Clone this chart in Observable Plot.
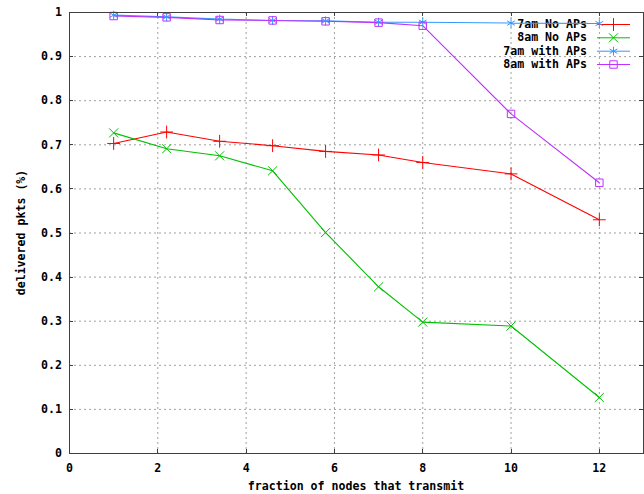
<!DOCTYPE html>
<html>
<head>
<meta charset="utf-8">
<script src="https://cdn.jsdelivr.net/npm/d3@7"></script>
<script src="https://cdn.jsdelivr.net/npm/@observablehq/plot@0.6"></script>
<style>
  html, body { margin: 0; padding: 0; background: #fff; }
  #chart svg { display: block; }
</style>
</head>
<body>
<div id="chart"></div>
<script>
// ---- data ----
const xs = [1, 2.2, 3.4, 4.6, 5.8, 7, 8, 10, 12];
const series = ["7am No APs", "8am No APs", "7am with APs", "8am with APs"];
const am7NoAPs   = [0.703, 0.729, 0.708, 0.698, 0.685, 0.677, 0.660, 0.634, 0.530];
const am8NoAPs   = [0.727, 0.691, 0.675, 0.641, 0.501, 0.378, 0.298, 0.289, 0.127];
const am7WithAPs = [0.994, 0.990, 0.985, 0.982, 0.981, 0.978, 0.978, 0.976, 0.975];
const am8WithAPs = [0.992, 0.989, 0.983, 0.982, 0.980, 0.977, 0.970, 0.770, 0.614];
const xTicks = [0, 2, 4, 6, 8, 10, 12];
const yTicks = [0, 0.1, 0.2, 0.3, 0.4, 0.5, 0.6, 0.7, 0.8, 0.9, 1];
const xLabel = "fraction of nodes that transmit";
const yLabel = "delivered pkts (%)";

const colors = ["#ff0000", "#00c000", "#3399ff", "#c030ff"];
const symbols = ["plus", "times", "asterisk", "square"];

const valuesBySeries = [am7NoAPs, am8NoAPs, am7WithAPs, am8WithAPs];
const rows = [];
series.forEach((s, i) => valuesBySeries[i].forEach((v, j) => rows.push({series: s, x: xs[j], y: v})));

const FONT = "'DejaVu Sans Mono', 'Liberation Mono', monospace";
const FS = 11.6;

const W = 644, H = 494;
const plot = Plot.plot({
  width: W,
  height: H,
  marginLeft: 69,
  marginRight: 1,
  marginTop: 12,
  marginBottom: 41,
  style: {fontFamily: FONT, fontSize: FS + "px", fontWeight: "bold", background: "#fff", color: "#000"},
  x: {domain: [0, 13]},
  y: {domain: [0, 1]},
  color: {domain: series, range: colors},
  symbol: {domain: series, range: symbols},
  marks: [
    Plot.gridX(xTicks.filter(d => d > 0), {stroke: "#a0a0a0", strokeOpacity: 1, strokeDasharray: "2,3"}),
    Plot.gridY(yTicks.filter(d => d > 0 && d < 1), {stroke: "#a0a0a0", strokeOpacity: 1, strokeDasharray: "2,3"}),
    Plot.axisX({ticks: xTicks, tickSize: 0, tickPadding: 10, label: null, tickFormat: d => String(d), fill: "#000"}),
    Plot.axisY({ticks: yTicks, tickSize: 0, tickPadding: 7.5, label: null, tickFormat: d3.format("~g"), fill: "#000"}),
    Plot.line(rows, {x: "x", y: "y", z: "series", stroke: "series", strokeWidth: 1.1, strokeLinecap: "butt", strokeLinejoin: "miter"}),
    Plot.dot(rows, {x: "x", y: "y", symbol: "series", stroke: "series", fill: "none", r: 4.2, strokeWidth: 1}),
    Plot.frame({stroke: "#404040", strokeWidth: 1})
  ]
});

const svg = d3.select(plot);
const sx = plot.scale("x"), sy = plot.scale("y");
const x0 = sx.apply(0), x1 = sx.apply(13), y0 = sy.apply(0), y1 = sy.apply(1);
const TL = 4;

// inward ticks on all four sides
const tg = svg.append("g").attr("stroke", "#404040").attr("stroke-width", 1);
xTicks.forEach(t => {
  const px = Math.round(sx.apply(t)) + 0.5;
  tg.append("line").attr("x1", px).attr("x2", px).attr("y1", y0).attr("y2", y0 - TL);
  tg.append("line").attr("x1", px).attr("x2", px).attr("y1", y1).attr("y2", y1 + TL);
});
yTicks.forEach(t => {
  const py = Math.round(sy.apply(t)) + 0.5;
  tg.append("line").attr("x1", x0).attr("x2", x0 + TL).attr("y1", py).attr("y2", py);
  tg.append("line").attr("x1", x1).attr("x2", x1 - TL).attr("y1", py).attr("y2", py);
});

// axis titles
svg.append("text")
  .attr("x", (x0 + x1) / 2).attr("y", 490)
  .attr("text-anchor", "middle")
  .attr("font-family", FONT).attr("font-size", FS).attr("font-weight", "bold").attr("fill", "#000")
  .text(xLabel);
svg.append("text")
  .attr("transform", `translate(20.5,${(y0 + y1) / 2}) rotate(-90)`)
  .attr("text-anchor", "middle").attr("dy", "0.35em")
  .attr("font-family", FONT).attr("font-size", FS).attr("font-weight", "bold").attr("fill", "#000")
  .text(yLabel);

// legend (inserted beneath the data lines, as in the original)
const lineNode = plot.querySelector('g[aria-label="line"]');
const lg = document.createElementNS("http://www.w3.org/2000/svg", "g");
plot.insertBefore(lg, lineNode);
const L = d3.select(lg);
const rowsY = [24, 37.3, 50.7, 64];
series.forEach((s, i) => {
  const yy = rowsY[i];
  L.append("text")
    .attr("x", 587).attr("y", yy).attr("dy", "0.35em")
    .attr("text-anchor", "end")
    .attr("font-family", FONT).attr("font-size", FS).attr("font-weight", "bold").attr("fill", "#000")
    .text(s);
  L.append("line").attr("x1", 597).attr("x2", 630).attr("y1", yy + 0.5).attr("y2", yy + 0.5)
    .attr("stroke", colors[i]).attr("stroke-width", 1);
});
// legend markers using Plot's own symbols
const legendDots = Plot.dot(series, {
  x: () => 0, y: () => 0, symbol: d => d, stroke: d => d, r: 4.2
}).plot({
  width: 10, height: 10, margin: 0, axis: null,
  symbol: {domain: series, range: symbols},
  color: {domain: series, range: colors}
});
[...legendDots.querySelectorAll("path")].forEach((p, i) => {
  const d = p.getAttribute("d");
  if (!d) return;
  L.append("path").attr("d", d)
    .attr("transform", `translate(613.5,${rowsY[i] + 0.5})`)
    .attr("fill", "none").attr("stroke", colors[i]).attr("stroke-width", 1);
});

document.getElementById("chart").appendChild(plot);
</script>
</body>
</html>
